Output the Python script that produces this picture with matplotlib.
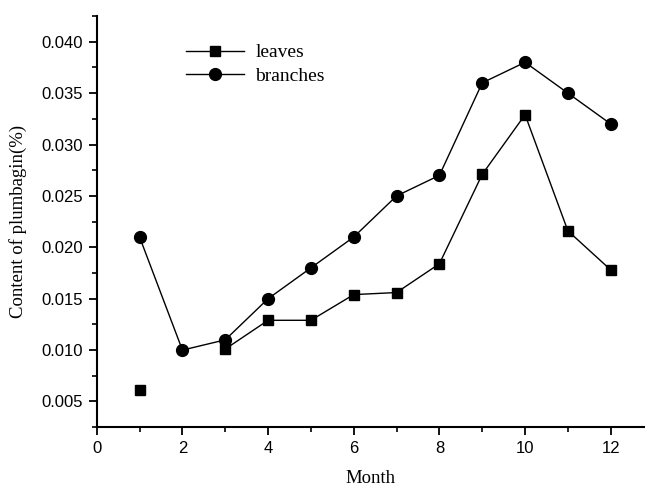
import numpy as np
from matplotlib import pyplot as plt
from matplotlib.ticker import MultipleLocator

months = np.arange(1, 13)
# month 2 has no leaves value, so the leaves line breaks there
leaves = [0.0061, np.nan, 0.0101, 0.0129, 0.0129, 0.0154, 0.0156,
          0.0184, 0.0271, 0.0329, 0.0216, 0.0178]
branches = [0.021, 0.010, 0.011, 0.015, 0.018, 0.021, 0.025,
            0.027, 0.036, 0.038, 0.035, 0.032]

serif = ['Liberation Serif', 'DejaVu Serif']
sans = ['Liberation Sans', 'DejaVu Sans']

fig = plt.figure(figsize=(6.45, 4.86), dpi=100)
ax = fig.add_axes([0.150, 0.121, 0.85, 0.846])

ax.plot(months, leaves, color='black', lw=1.0, marker='s', ms=7,
        label='leaves')
ax.plot(months, branches, color='black', lw=1.0, marker='o', ms=8.5,
        label='branches')

ax.set_xlim(0, 12.8)
ax.set_ylim(0.0025, 0.0425)
ax.xaxis.set_major_locator(MultipleLocator(2))
ax.xaxis.set_minor_locator(MultipleLocator(1))
ax.yaxis.set_major_locator(MultipleLocator(0.005))
ax.yaxis.set_minor_locator(MultipleLocator(0.0025))
ax.yaxis.set_major_formatter(plt.FuncFormatter(lambda v, p: '%.3f' % v))

for s in ['top', 'right']:
    ax.spines[s].set_visible(False)
for s in ['left', 'bottom']:
    ax.spines[s].set_linewidth(1.5)

ax.tick_params(which='major', direction='out', length=6, width=1.3,
               labelsize=12, pad=4)
ax.tick_params(which='minor', direction='out', length=3.5, width=1.2)
for lab in ax.get_xticklabels() + ax.get_yticklabels():
    lab.set_family(sans)

ax.set_xlabel('Month', family=serif, fontsize=13.5, labelpad=10)
ax.set_ylabel('Content of plumbagin(%)', family=serif, fontsize=13.5,
              labelpad=10)

leg = ax.legend(loc='upper left', bbox_to_anchor=(0.13, 0.975), frameon=False,
                handlelength=3.0, prop={'family': serif, 'size': 14},
                labelspacing=0.3, handletextpad=0.6)

fig.savefig('out.png', dpi=100)
